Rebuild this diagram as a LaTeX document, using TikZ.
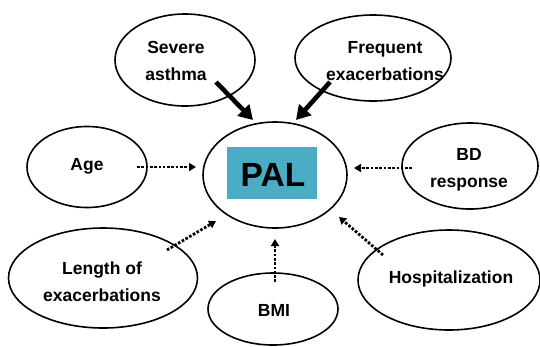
\documentclass[tikz,border=0pt]{standalone}
\usepackage{fontspec}
\setmainfont{Liberation Sans}
\usetikzlibrary{shapes.geometric,arrows.meta}
\definecolor{palblue}{HTML}{4BACC6}
\begin{document}
\begin{tikzpicture}[x=1pt,y=-1pt,
  factor/.style={ellipse,draw,line width=1.6pt,inner sep=0pt},
  lbl/.style={font=\bfseries\fontsize{17.5}{27}\selectfont,align=center},
  strong/.style={line width=4.6pt,-{Triangle[length=14pt,width=16pt]}},
  weak/.style={line width=2.8pt,dash pattern=on 2.6pt off 1.7pt,-{Triangle[length=7pt,width=8pt]}}]
\useasboundingbox (0,0) rectangle (540,346);
% ellipses
\node[factor,minimum width=144pt,minimum height=106pt] (pal) at (275,175) {};
\node[fill=palblue,minimum width=90pt,minimum height=52pt,inner sep=0pt] (palbox) at (272,173) {};
\node[font=\bfseries\fontsize{33.5}{36}\selectfont] (paltxt) at (273,175) {PAL};
\node[factor,minimum width=140pt,minimum height=92pt] (sev) at (185,60) {};
\node[lbl] (sevt) at (176,61) {Severe\\asthma};
\node[factor,minimum width=156pt,minimum height=86pt] (freq) at (373,58) {};
\node[lbl] (freqt) at (385,61) {Frequent\\exacerbations};
\node[factor,minimum width=120pt,minimum height=81pt] (age) at (87,167) {};
\node[lbl] (aget) at (87,166) {Age};
\node[factor,minimum width=189pt,minimum height=100pt] (len) at (103,278) {};
\node[lbl] (lent) at (102,282) {Length of\\exacerbations};
\node[factor,minimum width=136pt,minimum height=86pt] (bd) at (470,166) {};
\node[lbl] (bdt) at (469,170) {BD\\response};
\node[factor,minimum width=182pt,minimum height=100pt] (hosp) at (449,280) {};
\node[lbl] (hospt) at (451,279) {Hospitalization};
\node[factor,minimum width=130pt,minimum height=72pt] (bmi) at (273,309) {};
\node[lbl] (bmit) at (274,310) {BMI};
% arrow end points
\coordinate (sevA) at (216,82);  \coordinate (sevB) at (253,120);
\coordinate (freqA) at (330,82); \coordinate (freqB) at (296,120);
\coordinate (ageA) at (137,167); \coordinate (ageB) at (196,167);
\coordinate (lenA) at (167,250); \coordinate (lenB) at (216,221);
\coordinate (bdA) at (412,168);  \coordinate (bdB) at (354,168);
\coordinate (hospA) at (383,255);\coordinate (hospB) at (339,217);
\coordinate (bmiA) at (275,282); \coordinate (bmiB) at (275,239);
\draw[strong] (sevA) -- (sevB);
\draw[strong] (freqA) -- (freqB);
\draw[weak] (ageA) -- (ageB);
\draw[weak] (lenA) -- (lenB);
\draw[weak] (bdA) -- (bdB);
\draw[weak] (hospA) -- (hospB);
\draw[weak] (bmiA) -- (bmiB);
\end{tikzpicture}
\end{document}
